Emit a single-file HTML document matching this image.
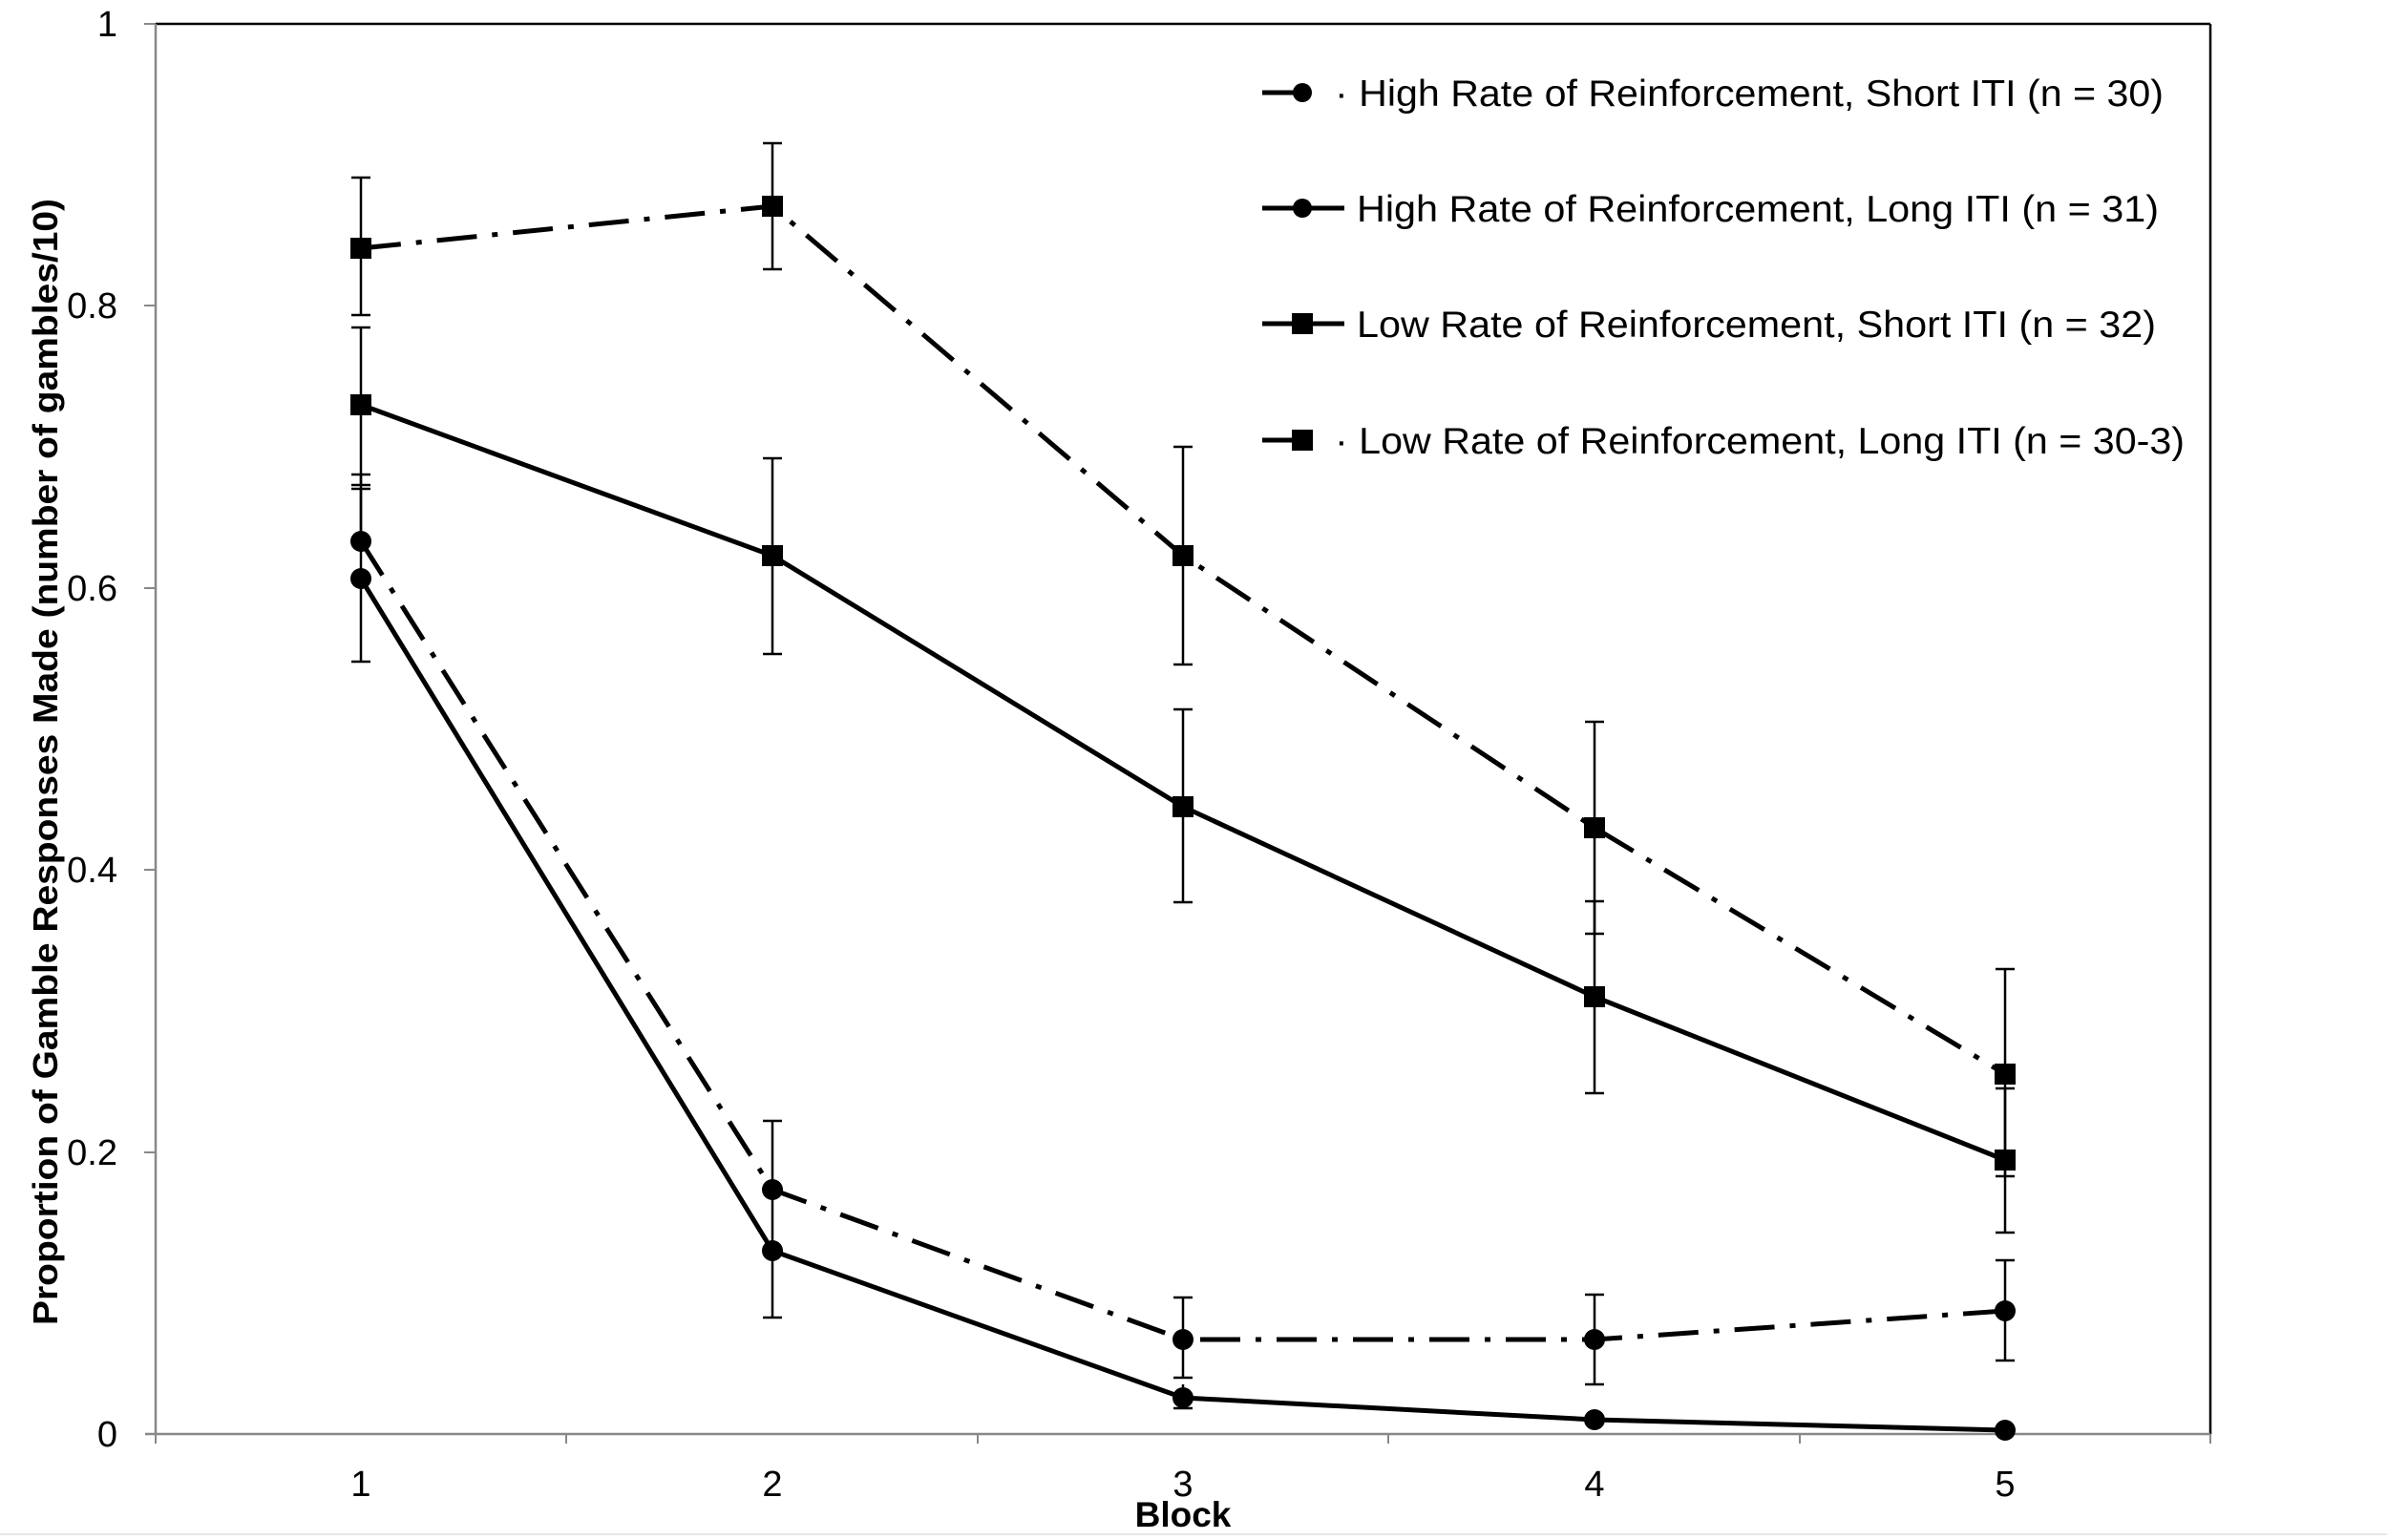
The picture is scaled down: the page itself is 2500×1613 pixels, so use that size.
<!DOCTYPE html>
<html><head><meta charset="utf-8"><style>
html,body{margin:0;padding:0;background:#fff;}
svg{display:block;}
text{font-family:"Liberation Sans",Arial,sans-serif;fill:#000;}
</style></head><body>
<svg width="2500" height="1613" viewBox="0 0 2500 1613" xmlns="http://www.w3.org/2000/svg">
<line x1="163" y1="25" x2="2315" y2="25" stroke="#000" stroke-width="2.5"/>
<line x1="2315" y1="25" x2="2315" y2="1502" stroke="#000" stroke-width="2.5"/>
<line x1="163" y1="25" x2="163" y2="1502" stroke="#888" stroke-width="2.5"/>
<line x1="152" y1="1502" x2="2315" y2="1502" stroke="#888" stroke-width="2.5"/>
<g stroke="#888" stroke-width="2">
<line x1="151" y1="25" x2="163" y2="25"/>
<line x1="151" y1="320" x2="163" y2="320"/>
<line x1="151" y1="616" x2="163" y2="616"/>
<line x1="151" y1="911" x2="163" y2="911"/>
<line x1="151" y1="1207" x2="163" y2="1207"/>
<line x1="163" y1="1502" x2="163" y2="1512"/>
<line x1="593" y1="1502" x2="593" y2="1512"/>
<line x1="1024" y1="1502" x2="1024" y2="1512"/>
<line x1="1454" y1="1502" x2="1454" y2="1512"/>
<line x1="1885" y1="1502" x2="1885" y2="1512"/>
<line x1="2315" y1="1502" x2="2315" y2="1512"/>
</g>
<line x1="0" y1="1607" x2="2500" y2="1607" stroke="#e6e6e6" stroke-width="2"/>
<g font-size="38" text-anchor="end">
<text x="123" y="38">1</text>
<text x="123" y="333">0.8</text>
<text x="123" y="629">0.6</text>
<text x="123" y="924">0.4</text>
<text x="123" y="1220">0.2</text>
<text x="123" y="1515">0</text>
</g>
<g font-size="38" text-anchor="middle">
<text x="378" y="1567">1</text>
<text x="809" y="1567">2</text>
<text x="1239" y="1567">3</text>
<text x="1670" y="1567">4</text>
<text x="2100" y="1567">5</text>
</g>
<text x="1239" y="1599" font-size="37" font-weight="bold" text-anchor="middle">Block</text>
<text transform="translate(60,798) rotate(-90)" font-size="36" font-weight="bold" text-anchor="middle" textLength="1180" lengthAdjust="spacingAndGlyphs">Proportion of Gamble Responses Made (number of gambles/10)</text>

<g stroke="#000" stroke-width="2.5">
<line x1="378" y1="186" x2="378" y2="330"/><line x1="368" y1="186" x2="388" y2="186"/><line x1="368" y1="330" x2="388" y2="330"/>
<line x1="809" y1="150" x2="809" y2="282"/><line x1="799" y1="150" x2="819" y2="150"/><line x1="799" y1="282" x2="819" y2="282"/>
<line x1="1239" y1="468" x2="1239" y2="696"/><line x1="1229" y1="468" x2="1249" y2="468"/><line x1="1229" y1="696" x2="1249" y2="696"/>
<line x1="1670" y1="756" x2="1670" y2="978"/><line x1="1660" y1="756" x2="1680" y2="756"/><line x1="1660" y1="978" x2="1680" y2="978"/>
<line x1="2100" y1="1015" x2="2100" y2="1232"/><line x1="2090" y1="1015" x2="2110" y2="1015"/><line x1="2090" y1="1232" x2="2110" y2="1232"/>
<line x1="378" y1="343" x2="378" y2="508"/><line x1="368" y1="343" x2="388" y2="343"/><line x1="368" y1="508" x2="388" y2="508"/>
<line x1="809" y1="480" x2="809" y2="685"/><line x1="799" y1="480" x2="819" y2="480"/><line x1="799" y1="685" x2="819" y2="685"/>
<line x1="1239" y1="743" x2="1239" y2="945"/><line x1="1229" y1="743" x2="1249" y2="743"/><line x1="1229" y1="945" x2="1249" y2="945"/>
<line x1="1670" y1="944" x2="1670" y2="1145"/><line x1="1660" y1="944" x2="1680" y2="944"/><line x1="1660" y1="1145" x2="1680" y2="1145"/>
<line x1="2100" y1="1140" x2="2100" y2="1291"/><line x1="2090" y1="1140" x2="2110" y2="1140"/><line x1="2090" y1="1291" x2="2110" y2="1291"/>
<line x1="378" y1="497" x2="378" y2="578"/><line x1="368" y1="497" x2="388" y2="497"/>
<line x1="809" y1="1174" x2="809" y2="1317"/><line x1="799" y1="1174" x2="819" y2="1174"/>
<line x1="1239" y1="1359" x2="1239" y2="1443"/><line x1="1229" y1="1359" x2="1249" y2="1359"/><line x1="1229" y1="1443" x2="1249" y2="1443"/>
<line x1="1670" y1="1356" x2="1670" y2="1450"/><line x1="1660" y1="1356" x2="1680" y2="1356"/><line x1="1660" y1="1450" x2="1680" y2="1450"/>
<line x1="2100" y1="1320" x2="2100" y2="1425"/><line x1="2090" y1="1320" x2="2110" y2="1320"/><line x1="2090" y1="1425" x2="2110" y2="1425"/>
<line x1="378" y1="512" x2="378" y2="693"/><line x1="368" y1="512" x2="388" y2="512"/><line x1="368" y1="693" x2="388" y2="693"/>
<line x1="809" y1="1310" x2="809" y2="1380"/><line x1="799" y1="1380" x2="819" y2="1380"/>
<line x1="1239" y1="1450" x2="1239" y2="1475"/><line x1="1229" y1="1475" x2="1249" y2="1475"/>
</g>

<g fill="none" stroke="#000" stroke-width="5" stroke-linejoin="round">
<polyline points="378,260 809,216 1239,582 1670,867 2100,1125" stroke-dasharray="42 16 6 16"/>
<polyline points="378,424 809,582 1239,845 1670,1044 2100,1215"/>
<polyline points="378,567 809,1246 1239,1403 1670,1403 2100,1373" stroke-dasharray="42 16 6 16"/>
<polyline points="378,606 809,1310 1239,1464 1670,1487 2100,1498"/>
</g>
<g fill="#000">
<rect x="367" y="249" width="22" height="22"/><rect x="798" y="205" width="22" height="22"/><rect x="1228" y="571" width="22" height="22"/><rect x="1659" y="856" width="22" height="22"/><rect x="2089" y="1114" width="22" height="22"/>
<rect x="367" y="413" width="22" height="22"/><rect x="798" y="571" width="22" height="22"/><rect x="1228" y="834" width="22" height="22"/><rect x="1659" y="1033" width="22" height="22"/><rect x="2089" y="1204" width="22" height="22"/>
<circle cx="378" cy="567" r="11"/><circle cx="809" cy="1246" r="11"/><circle cx="1239" cy="1403" r="11"/><circle cx="1670" cy="1403" r="11"/><circle cx="2100" cy="1373" r="11"/>
<circle cx="378" cy="606" r="11"/><circle cx="809" cy="1310" r="11"/><circle cx="1239" cy="1464" r="11"/><circle cx="1670" cy="1487" r="11"/><circle cx="2100" cy="1498" r="11"/>
</g>

<g stroke="#000" stroke-width="5">
<line x1="1322" y1="97" x2="1362" y2="97"/>
<line x1="1322" y1="218" x2="1408" y2="218"/>
<line x1="1322" y1="339" x2="1408" y2="339"/>
<line x1="1322" y1="461" x2="1362" y2="461"/>
</g>
<g fill="#000">
<circle cx="1364" cy="97" r="10"/>
<circle cx="1364" cy="218" r="10"/>
<rect x="1353" y="328" width="22" height="22"/>
<rect x="1353" y="450" width="22" height="22"/>
</g>
<g font-size="39">
<text x="1398" y="111" textLength="868" lengthAdjust="spacingAndGlyphs">· High Rate of Reinforcement, Short ITI (n = 30)</text>
<text x="1421" y="232" textLength="840" lengthAdjust="spacingAndGlyphs">High Rate of Reinforcement, Long ITI (n = 31)</text>
<text x="1421" y="353" textLength="837" lengthAdjust="spacingAndGlyphs">Low Rate of Reinforcement, Short ITI (n = 32)</text>
<text x="1398" y="475" textLength="890" lengthAdjust="spacingAndGlyphs">· Low Rate of Reinforcement, Long ITI (n = 30-3)</text>
</g>
</svg>
</body></html>
